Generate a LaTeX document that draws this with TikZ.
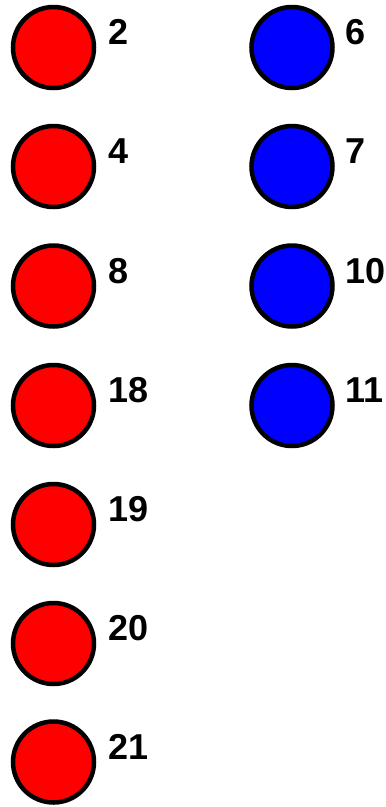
\documentclass[tikz,border=0pt]{standalone}
\usepackage{fontspec}
\setmainfont{Liberation Sans}
\usepackage{tikz}

\begin{document}
\begin{tikzpicture}[x=1pt, y=-1pt,
            dot/.style={circle, draw=black, line width=4.5pt, minimum size=81pt, inner sep=0pt},
            redDot/.style={dot, fill=red},
            blueDot/.style={dot, fill=blue},
            num/.style={anchor=base west, inner sep=0pt, font=\fontsize{36}{36}\selectfont\bfseries}]
            \useasboundingbox (0,0) rectangle (386,807);
            % left column
            \node[redDot] (R2) at (53.5,47.5) {};
            \node[redDot] (R4) at (53.5,166.5) {};
            \node[redDot] (R8) at (53.5,286) {};
            \node[redDot] (R18) at (53.5,405.5) {};
            \node[redDot] (R19) at (53.5,524.5) {};
            \node[redDot] (R20) at (53.5,643.5) {};
            \node[redDot] (R21) at (53.5,762) {};
            \node[num] (L2) at (108,44.5) {2};
            \node[num] (L4) at (108,163.5) {4};
            \node[num] (L8) at (108,283) {8};
            \node[num] (L18) at (108,402.5) {18};
            \node[num] (L19) at (108,521.5) {19};
            \node[num] (L20) at (108,640.5) {20};
            \node[num] (L21) at (108,759) {21};
            % right column
            \node[blueDot] (B6) at (292,47.5) {};
            \node[blueDot] (B7) at (292,166.5) {};
            \node[blueDot] (B10) at (292,286) {};
            \node[blueDot] (B11) at (292,405.5) {};
            \node[num] (L6) at (345.5,44.5) {6};
            \node[num] (L7) at (345.5,163.5) {7};
            \node[num] (L10) at (345.5,283) {10};
            \node[num] (L11) at (345.5,402.5) {11};
        \end{tikzpicture}
\end{document}
